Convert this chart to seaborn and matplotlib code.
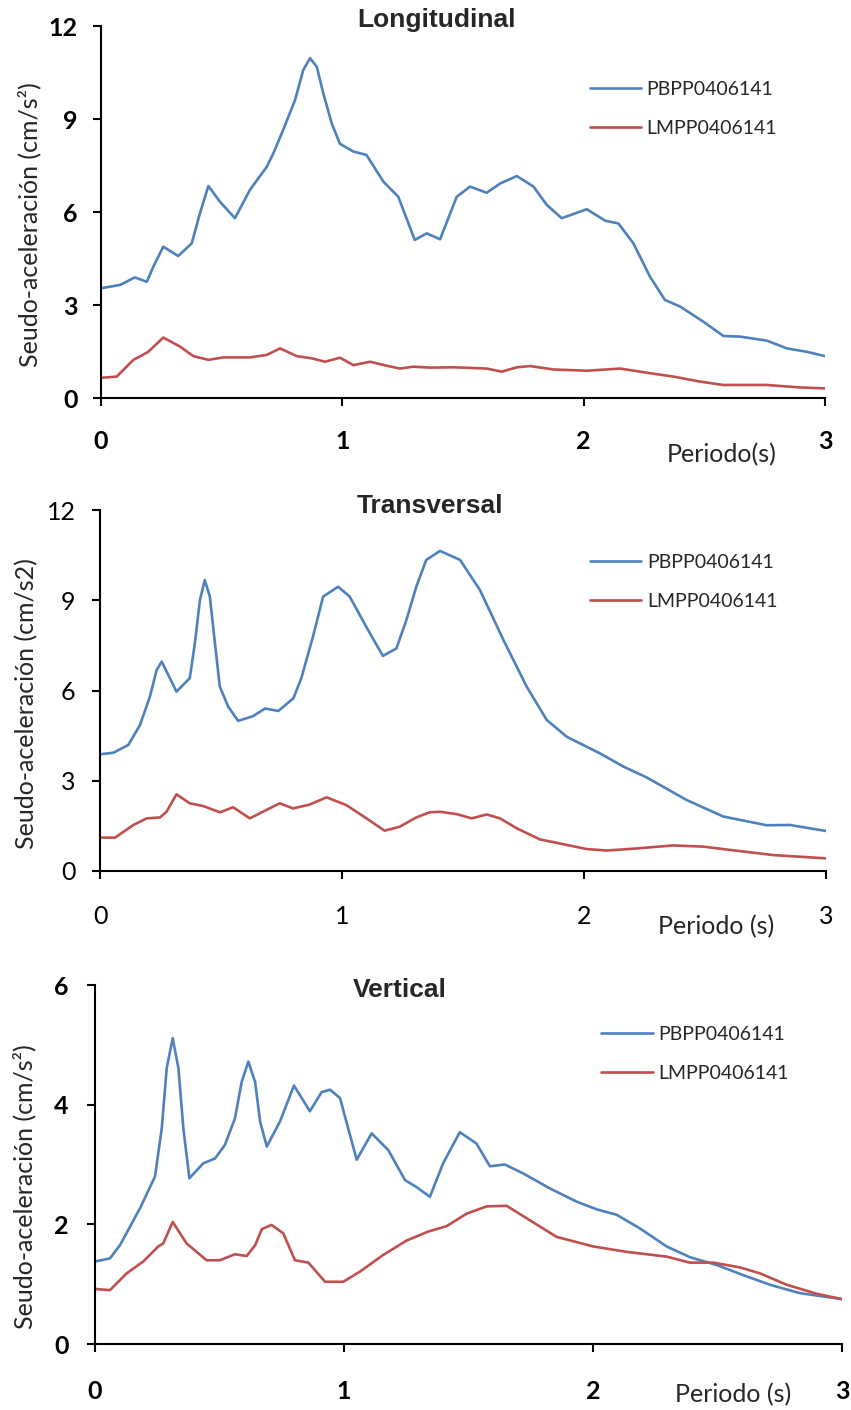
import numpy as np
import pandas as pd
import matplotlib
matplotlib.use("Agg")
import matplotlib.pyplot as plt
import seaborn as sns

# ---------------- data ----------------
series_names = ["PBPP0406141", "LMPP0406141"]
colors = ["#4F81BD", "#C0504D"]

# Longitudinal
lon_pb_x = [0.0, 0.08, 0.14, 0.19, 0.217, 0.258, 0.32, 0.376, 0.41, 0.445, 0.493, 0.555, 0.617, 0.687,
            0.714, 0.755, 0.804, 0.838, 0.866, 0.894, 0.921, 0.956, 0.99, 1.046, 1.10, 1.17, 1.232,
            1.30, 1.35, 1.405, 1.474, 1.529,
            1.598, 1.654, 1.723, 1.792, 1.847, 1.909, 2.013, 2.089, 2.144, 2.206, 2.275, 2.337, 2.40,
            2.496, 2.579, 2.648, 2.759, 2.842, 2.925, 3.0]
lon_pb_y = [3.54, 3.65, 3.89, 3.75, 4.24, 4.88, 4.58, 4.99, 5.96, 6.84, 6.33, 5.80, 6.71, 7.46,
            7.89, 8.65, 9.61, 10.58, 10.96, 10.69, 9.83, 8.86, 8.20, 7.95, 7.84, 6.98, 6.49,
            5.10, 5.31, 5.12, 6.49, 6.82,
            6.62, 6.92, 7.16, 6.82, 6.23, 5.80, 6.09, 5.72, 5.63, 4.99, 3.91, 3.16, 2.95,
            2.46, 2.00, 1.98, 1.85, 1.60, 1.49, 1.35]
lon_lm_x = [0.0, 0.065, 0.134, 0.196, 0.258, 0.327, 0.383, 0.445, 0.507, 0.617, 0.687, 0.742, 0.811,
            0.873, 0.928, 0.99, 1.046, 1.115, 1.184, 1.239, 1.294, 1.363, 1.46, 1.598, 1.66, 1.723,
            1.778, 1.875, 2.013, 2.151, 2.275, 2.372, 2.482, 2.579, 2.759, 2.897, 3.0]
lon_lm_y = [0.65, 0.69, 1.23, 1.49, 1.95, 1.66, 1.35, 1.23, 1.31, 1.31, 1.39, 1.60, 1.35,
            1.28, 1.17, 1.30, 1.06, 1.17, 1.04, 0.95, 1.01, 0.98, 0.99, 0.95, 0.85, 0.99,
            1.03, 0.92, 0.88, 0.95, 0.80, 0.69, 0.53, 0.42, 0.42, 0.34, 0.31]

# Transversal
tra_pb_x = [0.0, 0.055, 0.117, 0.165, 0.206, 0.234, 0.255, 0.282, 0.316, 0.371, 0.392, 0.413, 0.433,
            0.454, 0.475, 0.495, 0.53, 0.571, 0.633, 0.682, 0.737, 0.799, 0.832, 0.88, 0.922, 0.984,
            1.032, 1.10, 1.169, 1.225, 1.266, 1.307, 1.348, 1.405, 1.488, 1.57, 1.667, 1.763, 1.846,
            1.929, 2.066, 2.163, 2.259, 2.424, 2.576, 2.755, 2.851, 3.0]
tra_pb_y = [3.88, 3.93, 4.19, 4.85, 5.79, 6.68, 6.96, 6.52, 5.96, 6.41, 7.57, 9.01, 9.67,
            9.12, 7.57, 6.13, 5.46, 4.99, 5.15, 5.40, 5.32, 5.74, 6.41, 7.79, 9.12, 9.45,
            9.12, 8.12, 7.15, 7.40, 8.34, 9.45, 10.34, 10.64, 10.34, 9.34, 7.68, 6.13, 5.02,
            4.46, 3.91, 3.47, 3.11, 2.36, 1.81, 1.52, 1.53, 1.33]
tra_lm_x = [0.0, 0.062, 0.138, 0.193, 0.248, 0.275, 0.316, 0.371, 0.426, 0.496, 0.55, 0.619, 0.688,
            0.743, 0.798, 0.867, 0.936, 1.018, 1.101, 1.176, 1.238, 1.307, 1.362, 1.405, 1.474,
            1.536, 1.598, 1.653, 1.722, 1.818, 1.915, 2.011, 2.094, 2.218, 2.369, 2.493, 2.645,
            2.782, 3.0]
tra_lm_y = [1.11, 1.11, 1.53, 1.75, 1.78, 1.97, 2.55, 2.25, 2.16, 1.95, 2.12, 1.75, 2.03,
            2.25, 2.08, 2.21, 2.45, 2.19, 1.75, 1.34, 1.47, 1.78, 1.95, 1.97, 1.89,
            1.75, 1.88, 1.75, 1.42, 1.05, 0.89, 0.73, 0.68, 0.75, 0.85, 0.81, 0.66,
            0.53, 0.42]

# Vertical
ver_pb_x = [0.0, 0.06, 0.10, 0.181, 0.241, 0.268, 0.288, 0.312, 0.335, 0.355, 0.379, 0.435, 0.482,
            0.522, 0.562, 0.589, 0.616, 0.643, 0.663, 0.690, 0.743, 0.799, 0.863, 0.91, 0.944,
            0.984, 1.017, 1.051, 1.111, 1.178, 1.245,
            1.292, 1.345, 1.398, 1.465, 1.532, 1.586, 1.646, 1.72, 1.827, 1.934, 2.015, 2.095,
            2.189, 2.296, 2.39, 2.497, 2.604, 2.711, 2.831, 3.0]
ver_pb_y = [1.38, 1.43, 1.65, 2.27, 2.80, 3.60, 4.61, 5.11, 4.61, 3.60, 2.77, 3.02, 3.10,
            3.33, 3.77, 4.38, 4.72, 4.38, 3.72, 3.30, 3.72, 4.32, 3.89, 4.21, 4.25,
            4.11, 3.60, 3.08, 3.52, 3.24, 2.74,
            2.62, 2.46, 3.02, 3.54, 3.35, 2.97, 3.00, 2.85, 2.60, 2.38, 2.25, 2.16,
            1.93, 1.63, 1.45, 1.32, 1.15, 0.99, 0.85, 0.75]
ver_lm_x = [0.0, 0.06, 0.127, 0.194, 0.254, 0.274, 0.312, 0.368, 0.448, 0.502, 0.562, 0.609, 0.643,
            0.67, 0.709, 0.756, 0.803, 0.857, 0.924, 0.997, 1.064, 1.158, 1.252, 1.339, 1.412,
            1.493, 1.573, 1.653, 1.734, 1.854, 2.001, 2.135, 2.296, 2.389, 2.483, 2.59, 2.671,
            2.778, 2.898, 3.0]
ver_lm_y = [0.92, 0.90, 1.18, 1.38, 1.63, 1.68, 2.04, 1.68, 1.40, 1.40, 1.50, 1.47, 1.65,
            1.92, 1.99, 1.85, 1.40, 1.36, 1.04, 1.04, 1.21, 1.49, 1.73, 1.88, 1.97,
            2.18, 2.30, 2.31, 2.10, 1.79, 1.63, 1.54, 1.46, 1.36, 1.36, 1.28, 1.18,
            0.99, 0.84, 0.75]

titles = ["Longitudinal", "Transversal", "Vertical"]
ylabels = ["Seudo-aceleración (cm/s²)", "Seudo-aceleración (cm/s2)", "Seudo-aceleración (cm/s²)"]
xlabels = ["Periodo(s)", "Periodo (s)", "Periodo (s)"]
xticks = [0, 1, 2, 3]
yticks_list = [[0, 3, 6, 9, 12], [0, 3, 6, 9, 12], [0, 2, 4, 6]]
ymax_list = [12, 12, 6]

panels = [
    (lon_pb_x, lon_pb_y, lon_lm_x, lon_lm_y),
    (tra_pb_x, tra_pb_y, tra_lm_x, tra_lm_y),
    (ver_pb_x, ver_pb_y, ver_lm_x, ver_lm_y),
]

# ---------------- style ----------------
sns.set_theme(style="ticks")
plt.rcParams['font.family'] = ['Lato', 'DejaVu Sans']

W, H = 851, 1410
fig = plt.figure(figsize=(W / 100, H / 100), dpi=100)

# axes rectangles in pixels: left, right, top, bottom
rects = [(101, 825, 26, 398), (100, 826, 510, 871), (95, 842, 985, 1344)]
title_pos = [(0.464, 1.016), (0.454, 1.011), (0.408, 0.986)]
ylabel_pos = [(-0.083, 0.465), (-0.085, 0.465), (-0.078, 0.437)]
xlabel_pos = [(0.857, -0.121), (0.849, -0.122), (0.854, -0.109)]
legend_pos = [(0.675, 0.853), (0.675, 0.879), (0.678, 0.887)]
xpad = [17, 18.5, 20]
ypad = [11, 11.5, 13]
tick_weight = ["bold", "normal", "bold"]

for i, (pbx, pby, lmx, lmy) in enumerate(panels):
    l, r, t, b = rects[i]
    ax = fig.add_axes([l / W, 1 - b / H, (r - l) / W, (b - t) / H])
    df = pd.concat([
        pd.DataFrame({"x": pbx, "y": pby, "s": series_names[0]}),
        pd.DataFrame({"x": lmx, "y": lmy, "s": series_names[1]}),
    ])
    sns.lineplot(data=df, x="x", y="y", hue="s", palette=colors, ax=ax,
                 linewidth=1.9, estimator=None, sort=False)
    for ln in ax.lines:
        ln.set_solid_joinstyle("round")
    ax.set_xlim(0, 3)
    ax.set_ylim(0, ymax_list[i])
    ax.set_xticks(xticks)
    ax.set_yticks(yticks_list[i])
    ax.set_xticklabels([str(v) for v in xticks], fontsize=18, fontweight=tick_weight[i])
    ax.set_yticklabels([str(v) for v in yticks_list[i]], fontsize=18, fontweight=tick_weight[i])
    ax.tick_params(axis='x', direction='out', length=6, width=1.5, pad=xpad[i], colors='black')
    ax.tick_params(axis='y', direction='out', length=6, width=1.5, pad=ypad[i], colors='black')
    for s in ["top", "right"]:
        ax.spines[s].set_visible(False)
    for s in ["left", "bottom"]:
        ax.spines[s].set_linewidth(1.5)
        ax.spines[s].set_color("black")
    ax.set_xlabel(xlabels[i], fontsize=18)
    ax.xaxis.set_label_coords(*xlabel_pos[i])
    ax.set_ylabel(ylabels[i], fontsize=18)
    ax.yaxis.set_label_coords(*ylabel_pos[i])
    ax.text(title_pos[i][0], title_pos[i][1], titles[i], transform=ax.transAxes,
            ha='center', va='center', fontsize=19, fontweight='bold',
            family=['Liberation Sans', 'DejaVu Sans'])
    handles, labels = ax.get_legend_handles_labels()
    ax.legend(handles, labels, loc='upper left', bbox_to_anchor=legend_pos[i],
              frameon=False, fontsize=14, handlelength=2.63, handletextpad=0.3,
              labelspacing=1.15, borderpad=0, borderaxespad=0)
    ax.set_facecolor("white")

fig.savefig("out.png", dpi=100, facecolor="white")
